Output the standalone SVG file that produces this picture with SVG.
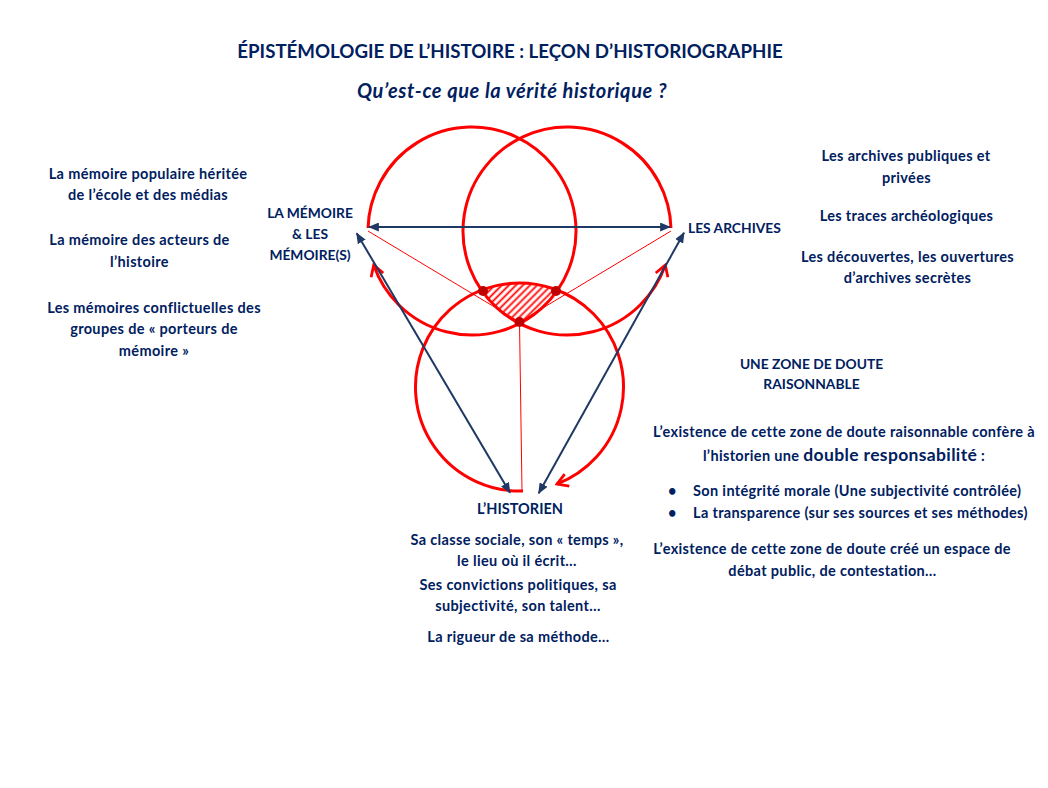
<svg xmlns="http://www.w3.org/2000/svg" width="1048" height="788" viewBox="0 0 1048 788">
<style>
text{font-family:Lato,"Open Sans","Liberation Sans",sans-serif;font-weight:bold;fill:#002060;}
.t{font-size:14.5px;text-anchor:middle;letter-spacing:0.35px;}
.l{font-size:14.5px;letter-spacing:0.35px;}
.cap{font-size:13.8px;text-anchor:middle;}
.circ{fill:none;stroke:#FF0000;stroke-width:3;}
.thin{fill:none;stroke:#FF0000;stroke-width:1;}
.nav{fill:none;stroke:#1F3864;stroke-width:2;}
.dot{fill:#C00000;}
</style>
<defs>
<marker id="navyHead" viewBox="0 0 12 10" refX="11" refY="5" markerWidth="11" markerHeight="9" markerUnits="userSpaceOnUse" orient="auto-start-reverse">
<path d="M0,0 L12,5 L0,10 Z" fill="#1F3864"/>
</marker>
<marker id="redHead" viewBox="0 0 14 14" refX="12" refY="7" markerWidth="15" markerHeight="15" markerUnits="userSpaceOnUse" orient="auto">
<path d="M2,1 L12,7 L2,13" fill="none" stroke="#FF0000" stroke-width="2.6"/>
</marker>
<pattern id="hatch" width="5" height="5" patternUnits="userSpaceOnUse" patternTransform="rotate(45)">
<rect width="5" height="5" fill="#FFFFFF"/>
<line x1="1.5" y1="0" x2="1.5" y2="5" stroke="#FF0000" stroke-width="1.8"/>
</pattern>
</defs>
<rect width="1048" height="788" fill="#FFFFFF"/>

<g id="title">
<text x="510" y="58" style="font-size:18.7px" text-anchor="middle">ÉPISTÉMOLOGIE DE L’HISTOIRE : LEÇON D’HISTORIOGRAPHIE</text>
<text x="512" y="98" style="font-size:20px;font-style:italic;letter-spacing:0.6px" text-anchor="middle">Qu’est-ce que la vérité historique ?</text>
</g>

<g id="zone-doute">
<path d="M481.5,290.2 A104,104 0 0 1 557.5,290.2 A104,104 0 0 1 519.5,323.5 A104,104 0 0 1 481.5,290.2 Z" fill="url(#hatch)"/>
</g>

<g id="cercles">
<path id="cercle-memoire" class="circ" d="M368.04,228 A104,104 0 1 1 373.7,265" marker-end="url(#redHead)"/>
<path id="cercle-archives" class="circ" d="M670.96,228 A104,104 0 1 0 665.3,265" marker-end="url(#redHead)"/>
<path id="cercle-historien" class="circ" d="M523,490.94 A104,104 0 1 1 557,484" marker-end="url(#redHead)"/>
</g>

<g id="connecteurs">
<line class="thin" x1="368" y1="231" x2="519.5" y2="322"/>
<line class="thin" x1="671" y1="231" x2="519.5" y2="322"/>
<line class="thin" x1="519.5" y1="322" x2="522" y2="491"/>
<line class="nav" x1="369" y1="227" x2="670" y2="227" marker-start="url(#navyHead)" marker-end="url(#navyHead)"/>
<line class="nav" x1="510" y1="492.7" x2="356.7" y2="233.3" marker-start="url(#navyHead)" marker-end="url(#navyHead)"/>
<line class="nav" x1="538.7" y1="493.3" x2="684" y2="232.7" marker-start="url(#navyHead)" marker-end="url(#navyHead)"/>
<circle class="dot" cx="483" cy="291" r="5"/>
<circle class="dot" cx="556" cy="291" r="5"/>
<circle class="dot" cx="519.5" cy="322" r="5"/>
</g>

<g id="node-memoire">
<text class="cap" x="310" y="218">LA MÉMOIRE</text>
<text class="cap" x="310" y="239">&amp; LES</text>
<text class="cap" x="310" y="260">MÉMOIRE(S)</text>
</g>

<g id="liste-memoire">
<text class="t" x="148" y="179">La mémoire populaire héritée</text>
<text class="t" x="148" y="200">de l’école et des médias</text>
<text class="t" x="139.5" y="245">La mémoire des acteurs de</text>
<text class="t" x="139.5" y="267">l’histoire</text>
<text class="t" x="154" y="313">Les mémoires conflictuelles des</text>
<text class="t" x="154" y="334">groupes de « porteurs de</text>
<text class="t" x="154" y="356">mémoire »</text>
</g>

<g id="node-archives">
<text style="font-size:13.8px" x="688" y="233">LES ARCHIVES</text>
</g>

<g id="liste-archives">
<text class="t" x="906" y="161">Les archives publiques et</text>
<text class="t" x="906.5" y="183">privées</text>
<text class="t" x="906.5" y="221">Les traces archéologiques</text>
<text class="t" x="907.5" y="262">Les découvertes, les ouvertures</text>
<text class="t" x="907.5" y="283">d’archives secrètes</text>
</g>

<g id="node-historien">
<text x="520" y="514" style="font-size:14.5px" text-anchor="middle">L’HISTORIEN</text>
<text class="t" x="517" y="545">Sa classe sociale, son « temps »,</text>
<text class="t" x="517" y="566">le lieu où il écrit…</text>
<text class="t" x="518" y="590">Ses convictions politiques, sa</text>
<text class="t" x="518" y="611">subjectivité, son talent…</text>
<text class="t" x="518.5" y="642">La rigueur de sa méthode…</text>
</g>

<g id="node-zone">
<text class="cap" x="811.5" y="369">UNE ZONE DE DOUTE</text>
<text class="cap" x="811.5" y="389">RAISONNABLE</text>
<text class="t" x="844" y="437">L’existence de cette zone de doute raisonnable confère à</text>
<text class="t" x="844" y="461">l’historien une <tspan style="font-size:17.5px">double responsabilité</tspan> :</text>
<text class="l" x="668" y="496">•</text>
<text class="l" x="693" y="496">Son intégrité morale (Une subjectivité contrôlée)</text>
<text class="l" x="668" y="518">•</text>
<text class="l" x="693" y="518">La transparence (sur ses sources et ses méthodes)</text>
<text class="t" x="832" y="554">L’existence de cette zone de doute créé un espace de</text>
<text class="t" x="832.5" y="576">débat public, de contestation…</text>
</g>
</svg>
